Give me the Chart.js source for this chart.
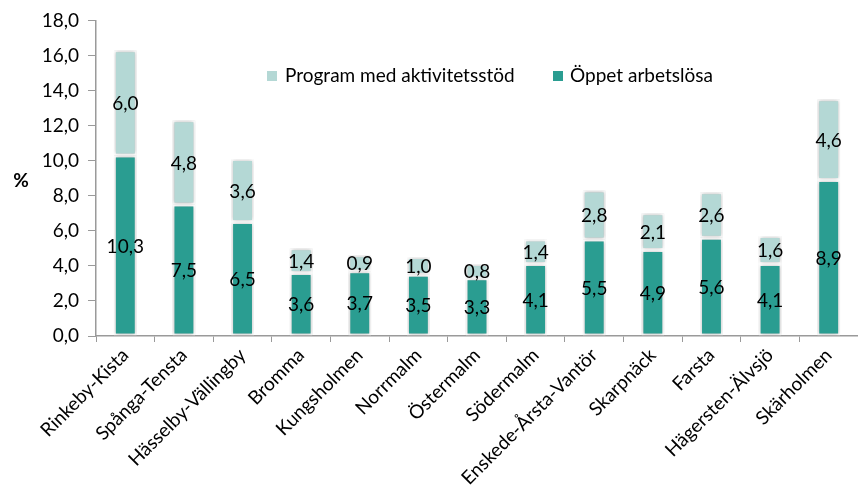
<!DOCTYPE html>
<html>
<head>
<meta charset="utf-8">
<script src="https://cdn.jsdelivr.net/npm/chart.js@4"></script>
<style>
html,body{margin:0;padding:0;background:#fff;}
#wrap{width:858px;height:495px;position:relative;}
</style>
</head>
<body>
<div id="wrap"><canvas id="c"></canvas></div>
<script>
const categories = ["Rinkeby-Kista","Spånga-Tensta","Hässelby-Vällingby","Bromma","Kungsholmen","Norrmalm","Östermalm","Södermalm","Enskede-Årsta-Vantör","Skarpnäck","Farsta","Hägersten-Älvsjö","Skärholmen"];
const oppetArbetslosa = [10.3,7.5,6.5,3.6,3.7,3.5,3.3,4.1,5.5,4.9,5.6,4.1,8.9];
const programAktivitetsstod = [6.0,4.8,3.6,1.4,0.9,1.0,0.8,1.4,2.8,2.1,2.6,1.6,4.6];
const seriesLabels = ["Öppet arbetslösa","Program med aktivitetsstöd"];
const yTicks = [0,2,4,6,8,10,12,14,16,18];
const yAxisTitle = "%";

const DARK = "#2A9D91";
const LIGHT = "#B4D8D5";
const FONT = "Lato, 'Open Sans', sans-serif";
const FS = 19;
const fmt = v => v.toFixed(1).replace('.', ',');

const shadowPlugin = {
  id: 'shadow',
  beforeDatasetDraw(chart) {
    const ctx = chart.ctx;
    ctx.save();
    ctx.shadowColor = 'rgba(0,0,0,0.28)';
    ctx.shadowBlur = 4;
    ctx.shadowOffsetX = 0;
    ctx.shadowOffsetY = 0;
  },
  afterDatasetDraw(chart) {
    chart.ctx.restore();
  }
};

const labelPlugin = {
  id: 'labels',
  afterDatasetsDraw(chart) {
    const ctx = chart.ctx;
    ctx.save();
    ctx.font = FS + "px " + FONT;
    ctx.fillStyle = "#000";
    ctx.textAlign = 'center';
    ctx.textBaseline = 'middle';
    chart.data.datasets.forEach((ds, di) => {
      const meta = chart.getDatasetMeta(di);
      meta.data.forEach((bar, i) => {
        const p = bar.getProps(['x','y','base'], true);
        ctx.fillText(fmt(ds.data[i]), p.x, (p.y + p.base) / 2 + 1);
      });
    });
    ctx.restore();
  }
};

const legendPlugin = {
  id: 'customLegend',
  afterDraw(chart) {
    const ctx = chart.ctx;
    ctx.save();
    ctx.font = FS + "px " + FONT;
    ctx.textBaseline = 'middle';
    const y = 76;
    const ds1 = chart.data.datasets[1];
    ctx.fillStyle = ds1.backgroundColor;
    ctx.fillRect(267, y - 5, 10, 10);
    ctx.fillStyle = "#000";
    ctx.fillText(ds1.label, 285, y);
    const ds0 = chart.data.datasets[0];
    ctx.fillStyle = ds0.backgroundColor;
    ctx.fillRect(553, y - 5, 10, 10);
    ctx.fillStyle = "#000";
    ctx.fillText(ds0.label, 570, y);
    ctx.font = "bold " + FS + "px " + FONT;
    ctx.textAlign = 'center';
    ctx.fillText(yAxisTitle, 21, 181);
    ctx.restore();
  }
};

new Chart(document.getElementById('c'), {
  type: 'bar',
  data: {
    labels: categories,
    datasets: [
      { label: seriesLabels[0], data: oppetArbetslosa, backgroundColor: DARK, borderColor: '#fff', borderWidth: 2, borderSkipped: false, stack: 's' },
      { label: seriesLabels[1], data: programAktivitetsstod, backgroundColor: LIGHT, borderColor: '#fff', borderWidth: 2, borderSkipped: false, stack: 's' }
    ]
  },
  options: {
    responsive: true,
    maintainAspectRatio: false,
    animation: false,
    layout: { padding: { left: 36, right: 0, top: 12, bottom: 0 } },
    plugins: { legend: { display: false }, tooltip: { enabled: false } },
    datasets: { bar: { categoryPercentage: 1.0, barPercentage: 0.39 } },
    scales: {
      x: {
        stacked: true,
        offset: true,
        grid: { display: true, offset: true, drawOnChartArea: false, drawTicks: true, tickLength: 6, color: '#9a9a9a' },
        border: { display: true, color: '#9a9a9a', width: 1.5 },
        ticks: { font: { family: FONT, size: FS }, color: '#000', minRotation: 45, maxRotation: 45, autoSkip: false, padding: 2 },
        afterFit(scale) { scale.height = 495 - 336; }
      },
      y: {
        stacked: true,
        min: 0, max: 18,
        afterBuildTicks(scale) { scale.ticks = yTicks.map(v => ({ value: v })); },
        grid: { display: true, drawOnChartArea: false, drawTicks: true, tickLength: 8, color: '#9a9a9a' },
        border: { display: true, color: '#9a9a9a', width: 1.5 },
        ticks: { font: { family: FONT, size: FS }, color: '#000', padding: 9, callback: v => fmt(v) },
        afterFit(scale) { scale.width = 96 - 36; }
      }
    }
  },
  plugins: [shadowPlugin, labelPlugin, legendPlugin]
});
</script>
</body>
</html>
